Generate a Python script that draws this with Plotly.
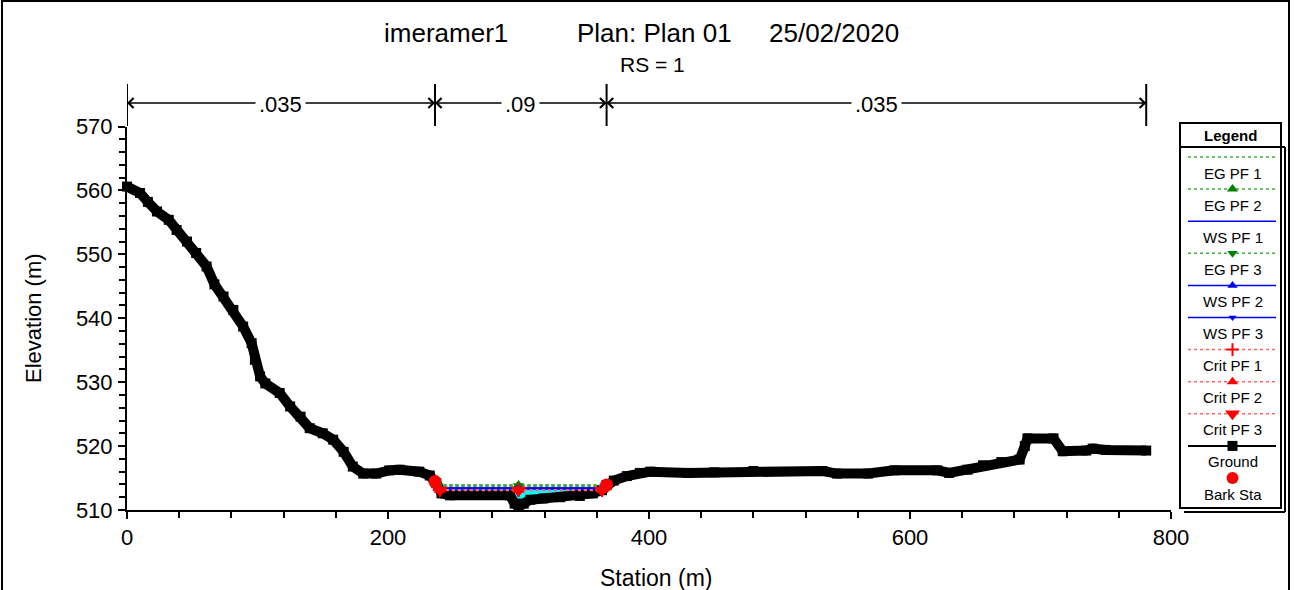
import numpy as np
import plotly.graph_objects as go

W, H = 1298, 590
FONT = "Liberation Sans, Arial, sans-serif"

# ---- cross-section geometry (RS = 1) ----
station = [0, 10, 16, 23, 32, 38, 46, 53, 61, 67,
           74, 81.5, 89, 95.5, 98, 102, 106, 117, 125, 133,
           140, 150, 158, 166, 173, 181, 191, 201, 209, 224,
           232, 237, 241, 247.5, 293.5, 297, 300, 304, 309, 319,
           332, 347, 357, 364, 367.5, 373, 383, 393, 401, 430,
           450, 480, 533, 544, 568, 588, 621, 630, 644, 656,
           670, 684, 688, 690, 710, 717, 735, 740, 750, 781]
elevation = [560.6, 559.6, 558.2, 556.7, 555.4, 553.8, 552.0, 550.2, 548.1, 545.3,
             543.4, 541.3, 538.7, 536.1, 533.5, 530.9, 529.8, 528.3, 526.2, 524.6,
             522.8, 522.0, 521.0, 519.1, 516.8, 515.7, 515.7, 516.2, 516.3, 516.0,
             515.4, 514.2, 512.6, 512.3, 512.3, 511.0, 510.5, 511.0, 511.6, 511.8,
             512.0, 512.2, 512.6, 513.1, 513.9, 514.6, 515.3, 515.8, 516.0, 515.8,
             515.9, 516.1, 516.1, 515.7, 515.7, 516.2, 516.2, 515.8, 516.3, 517.0,
             517.5, 517.9, 520.0, 521.2, 521.2, 519.2, 519.3, 519.6, 519.4, 519.3]

bank_stations = [236, 367.5]
mannings_n = [0.035, 0.09, 0.035]

# ---- computed profiles ----
profiles = ["PF 1", "PF 2", "PF 3"]
eg_elev = [513.85, 513.82, 513.80]
ws_elev = [513.40, 513.38, 513.36]
crit_elev = [513.13, 513.11, 513.09]

title_parts = ["imeramer1", "Plan: Plan 01", "25/02/2020"]
subtitle = "RS = 1"
x_title = "Station (m)"
y_title = "Elevation (m)"

st = np.array(station, dtype=float)
el = np.array(elevation, dtype=float)
i_min = int(np.argmin(el))


def wet_edges(wse):
    """Stations where a water surface meets the ground either side of the thalweg."""
    i = i_min
    while el[i - 1] < wse:
        i -= 1
    xl = float(np.interp(wse, [el[i], el[i - 1]], [st[i], st[i - 1]]))
    j = i_min
    while el[j + 1] < wse:
        j += 1
    xr = float(np.interp(wse, [el[j], el[j + 1]], [st[j], st[j + 1]]))
    return xl, xr, i, j


fig = go.Figure()

# water area under WS PF 1
xl, xr, i0, j0 = wet_edges(ws_elev[0])
poly_x = [xl] + list(st[i0:j0 + 1]) + [xr, xl]
poly_y = [ws_elev[0]] + list(el[i0:j0 + 1]) + [ws_elev[0], ws_elev[0]]
fig.add_trace(go.Scatter(x=poly_x, y=poly_y, mode="lines", fill="toself",
                         fillcolor="#00ffff", line=dict(width=0, color="#00ffff"),
                         hoverinfo="skip"))

# ground
fig.add_trace(go.Scatter(x=station, y=elevation, mode="lines+markers",
                         line=dict(color="black", width=10),
                         marker=dict(symbol="square", size=10, color="black"),
                         cliponaxis=False, name="Ground"))

GREEN_LINE = "#3fae3f"
GREEN_MK = "#008000"
BLUE = "#0000ff"
RED_LINE = "#ff6666"
RED_MK = "#ff0000"

styles = {
    "EG PF 1": dict(color=GREEN_LINE, dash="dot", width=2.5, symbol=None, mc=GREEN_MK, ms=0),
    "EG PF 2": dict(color=GREEN_LINE, dash="dot", width=2.5, symbol="triangle-up", mc=GREEN_MK, ms=11),
    "WS PF 1": dict(color=BLUE, dash="solid", width=2, symbol=None, mc=BLUE, ms=0),
    "EG PF 3": dict(color=GREEN_LINE, dash="dot", width=2.5, symbol="triangle-down", mc=GREEN_MK, ms=10),
    "WS PF 2": dict(color=BLUE, dash="solid", width=2, symbol="triangle-up", mc=BLUE, ms=10),
    "WS PF 3": dict(color=BLUE, dash="solid", width=2, symbol="triangle-down", mc=BLUE, ms=8),
    "Crit PF 1": dict(color=RED_LINE, dash="dot", width=2, symbol="cross-thin", mc=RED_MK, ms=10),
    "Crit PF 2": dict(color=RED_LINE, dash="dot", width=2, symbol="triangle-up", mc=RED_MK, ms=11),
    "Crit PF 3": dict(color=RED_LINE, dash="dot", width=2, symbol="triangle-down", mc=RED_MK, ms=14),
}

levels = {}
for p, e, w, c in zip(profiles, eg_elev, ws_elev, crit_elev):
    levels["EG " + p] = e
    levels["WS " + p] = w
    levels["Crit " + p] = c

order = ["EG PF 1", "EG PF 2", "WS PF 1", "EG PF 3", "WS PF 2", "WS PF 3",
         "Crit PF 1", "Crit PF 2", "Crit PF 3"]

for name in order:
    wse = levels[name]
    s = styles[name]
    a, b, _, _ = wet_edges(wse)
    xs = [a, float(st[i_min]), b]
    ys = [wse] * 3
    fig.add_trace(go.Scatter(x=xs, y=ys, mode="lines", name=name,
                             line=dict(color=s["color"], dash=s["dash"], width=s["width"])))
    if s["symbol"]:
        fig.add_trace(go.Scatter(x=xs, y=ys, mode="markers", name=name, cliponaxis=False,
                                 marker=dict(symbol=s["symbol"], size=s["ms"], color=s["mc"],
                                             line=dict(width=2 if s["symbol"] == "cross-thin" else 0,
                                                       color=s["mc"]))))

# bank stations
bank_y = list(np.interp(bank_stations, st, el))
fig.add_trace(go.Scatter(x=bank_stations, y=bank_y, mode="markers", name="Bank Sta",
                         marker=dict(symbol="circle", size=13, color=RED_MK)))

# ---- legend panel (drawn in page-pixel space on x2/y2) ----
leg_x0, leg_x1 = 1180, 1281
leg_line = (1188, 1276)
leg_cx = (leg_x0 + leg_x1) / 2 + 2
row0, row_step = 157, 32.1
legend_rows = order + ["Ground"]
annotations = []
for k, name in enumerate(legend_rows):
    yk = row0 + k * row_step
    if name == "Ground":
        line = dict(color="black", width=2, dash="solid")
        mk = dict(symbol="square", size=10, color="black")
    else:
        s = styles[name]
        line = dict(color=s["color"], width=1.5, dash=s["dash"])
        mk = dict(symbol=s["symbol"], size=max(s["ms"] - 1, 0), color=s["mc"],
                  line=dict(width=2 if s["symbol"] == "cross-thin" else 0, color=s["mc"])) if s["symbol"] else None
    fig.add_trace(go.Scatter(x=list(leg_line), y=[yk, yk], mode="lines", line=line,
                             xaxis="x2", yaxis="y2", hoverinfo="skip"))
    if mk:
        fig.add_trace(go.Scatter(x=[leg_cx], y=[yk], mode="markers", marker=mk,
                                 xaxis="x2", yaxis="y2", hoverinfo="skip"))
    annotations.append(dict(x=leg_cx, y=yk + 16, xref="x2", yref="y2", text=name,
                            showarrow=False, font=dict(family=FONT, size=15, color="black")))
yk = row0 + len(legend_rows) * row_step
fig.add_trace(go.Scatter(x=[leg_cx], y=[yk], mode="markers",
                         marker=dict(symbol="circle", size=12, color=RED_MK),
                         xaxis="x2", yaxis="y2", hoverinfo="skip"))
annotations.append(dict(x=leg_cx, y=yk + 16, xref="x2", yref="y2", text="Bark Sta",
                        showarrow=False, font=dict(family=FONT, size=15, color="black")))
annotations.append(dict(x=leg_cx - 2, y=135, xref="x2", yref="y2", text="<b>Legend</b>",
                        showarrow=False, font=dict(family=FONT, size=15, color="black")))

shapes = [
    dict(type="rect", xref="x2", yref="y2", x0=2, x1=1289, y0=1, y1=600,
         line=dict(color="black", width=2)),
    dict(type="rect", xref="x2", yref="y2", x0=leg_x0, x1=leg_x1, y0=123, y1=508,
         line=dict(color="black", width=2)),
    dict(type="line", xref="x2", yref="y2", x0=leg_x0, x1=leg_x1 + 4, y0=147, y1=147,
         line=dict(color="black", width=2)),
    dict(type="line", xref="x2", yref="y2", x0=leg_x1 + 4, x1=leg_x1 + 4, y0=147, y1=512,
         line=dict(color="black", width=2)),
    dict(type="line", xref="x2", yref="y2", x0=leg_x0 + 4, x1=leg_x1 + 4, y0=512, y1=512,
         line=dict(color="black", width=2)),
]

# ---- Manning's n reaches above the section ----
breaks = [station[0]] + bank_stations + [station[-1]]
arrow_y = 103
for b in breaks:
    shapes.append(dict(type="line", xref="x", yref="y2", x0=b, x1=b, y0=84, y1=126,
                       line=dict(color="black", width=2)))
for a, b, n in zip(breaks[:-1], breaks[1:], mannings_n):
    mid = (a + b) / 2
    for end in (a, b):
        annotations.append(dict(x=end, y=arrow_y, xref="x", yref="y2", ax=mid, ay=arrow_y,
                                axref="x", ayref="y2", text="", showarrow=True,
                                arrowhead=4, arrowsize=1.3, arrowwidth=1.5,
                                arrowcolor="black", standoff=0))
    annotations.append(dict(x=mid, y=arrow_y + 1, xref="x", yref="y2",
                            text=f"{n:g}".lstrip("0"), showarrow=False, bgcolor="white",
                            borderpad=3, font=dict(family=FONT, size=22, color="black")))

# ---- titles ----
for txt, cx in zip(title_parts, [446, 654, 834]):
    annotations.append(dict(x=cx, y=33, xref="x2", yref="y2", text=txt, showarrow=False,
                            font=dict(family=FONT, size=26, color="black")))
annotations.append(dict(x=652, y=64, xref="x2", yref="y2", text=subtitle, showarrow=False,
                        font=dict(family=FONT, size=21, color="black")))
annotations.append(dict(x=656, y=578, xref="x2", yref="y2", text=x_title, showarrow=False,
                        font=dict(family=FONT, size=23, color="black")))
annotations.append(dict(x=33, y=318, xref="x2", yref="y2", text=y_title, showarrow=False,
                        textangle=-90, font=dict(family=FONT, size=22, color="black")))

tickfont = dict(family=FONT, size=22, color="black")
fig.update_layout(
    width=W, height=H, autosize=False,
    margin=dict(l=0, r=0, t=0, b=0, pad=0, autoexpand=False),
    paper_bgcolor="white", plot_bgcolor="rgba(0,0,0,0)",
    showlegend=False,
    xaxis=dict(domain=[127 / W, 1171 / W], range=[0, 800], tick0=0, dtick=200,
               ticks="outside", ticklen=7, tickwidth=2, tickcolor="black",
               showline=True, linewidth=2, linecolor="black",
               showgrid=False, zeroline=False, tickfont=tickfont, ticklabelstandoff=0,
               minor=dict(dtick=40, ticks="outside", ticklen=6, tickwidth=1.5,
                          tickcolor="black", showgrid=False),
               anchor="y", fixedrange=True, automargin=False),
    yaxis=dict(domain=[(H - 510) / H, (H - 126.5) / H], range=[510, 570], tick0=510, dtick=10,
               ticks="outside", ticklen=7, tickwidth=2, tickcolor="black",
               showline=True, linewidth=2, linecolor="black",
               showgrid=False, zeroline=False, tickfont=tickfont, ticklabelstandoff=1,
               minor=dict(dtick=2, ticks="outside", ticklen=6, tickwidth=1.5,
                          tickcolor="black", showgrid=False),
               anchor="x", fixedrange=True, automargin=False),
    xaxis2=dict(domain=[0, 1], range=[0, W], visible=False, anchor="y2", fixedrange=True,
                automargin=False),
    yaxis2=dict(domain=[0, 1], range=[H, 0], visible=False, anchor="x2", fixedrange=True,
                automargin=False),
    shapes=shapes,
    annotations=annotations,
)

fig.write_html("out.html")
